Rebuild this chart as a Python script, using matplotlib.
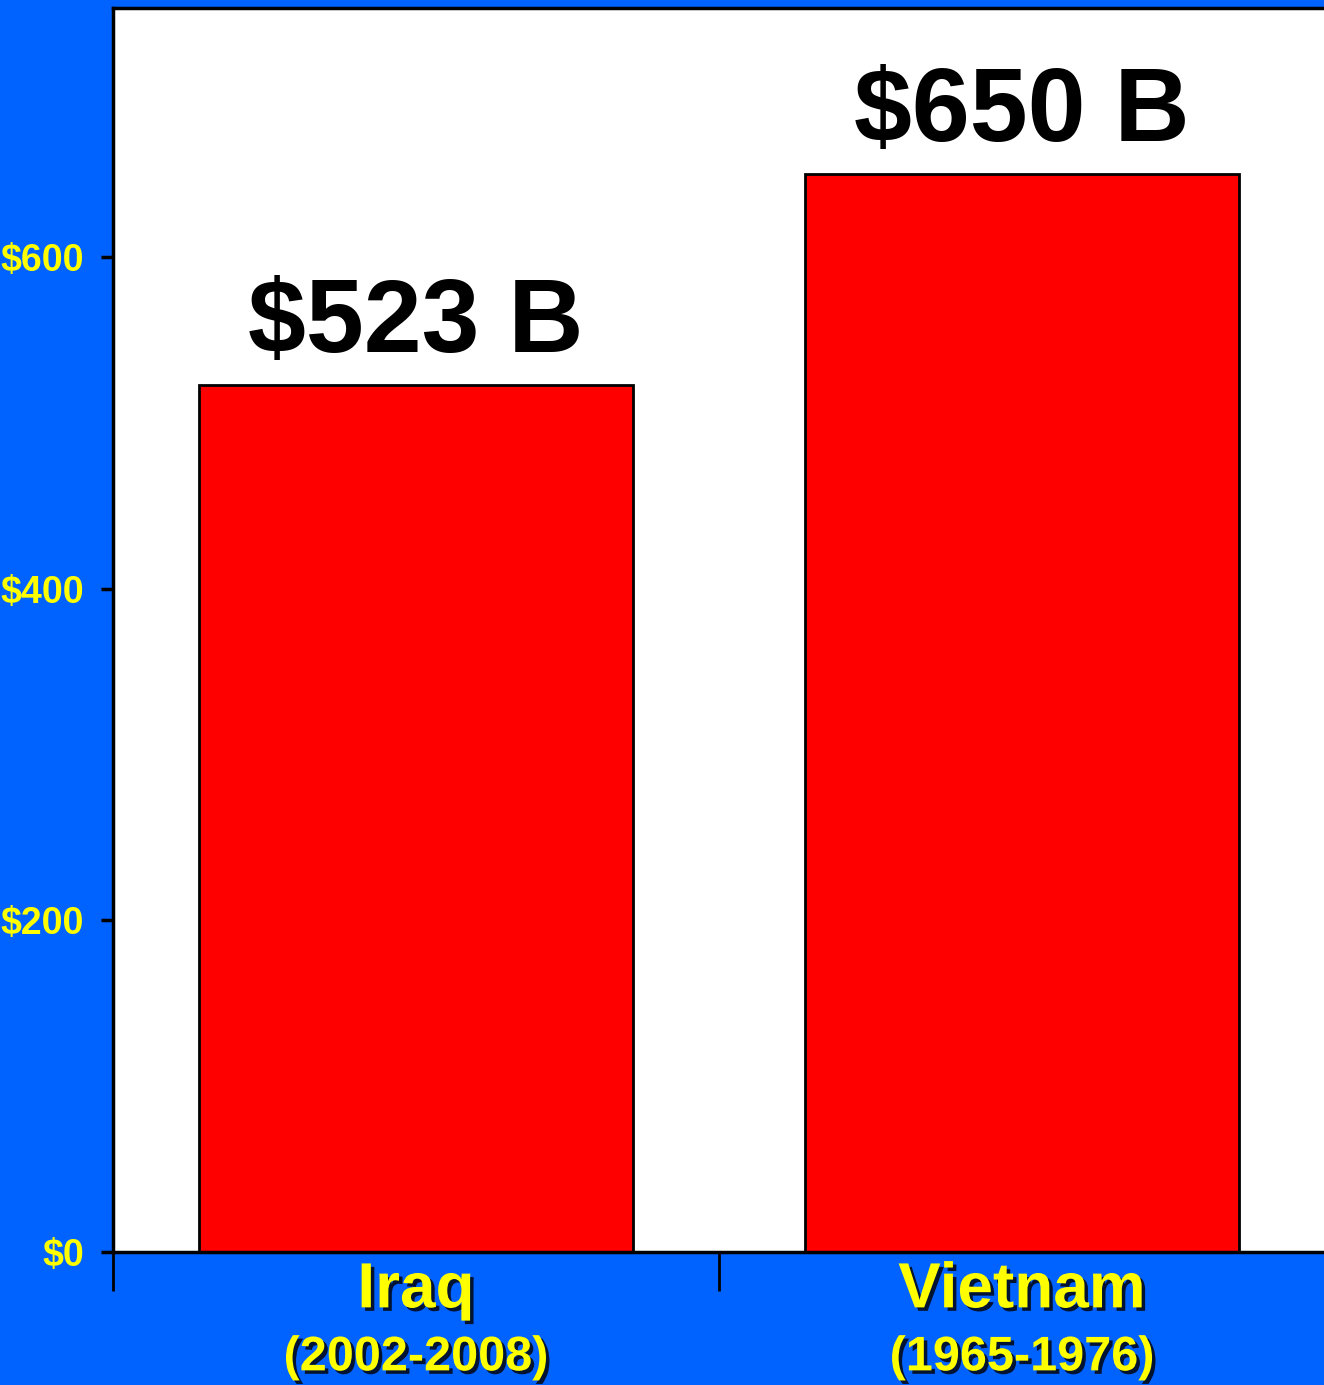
import matplotlib.pyplot as plt
import matplotlib.patheffects as pe
from matplotlib.ticker import FixedLocator, FuncFormatter

wars = ['Iraq', 'Vietnam']
periods = ['(2002-2008)', '(1965-1976)']
cost_billions = [523, 650]
value_labels = ['$523 B', '$650 B']
y_ticks = [0, 200, 400, 600]

blue = '#0062FF'
yellow = '#FFFF00'

fig = plt.figure(figsize=(13.24, 13.85), dpi=100, facecolor=blue)
ax = fig.add_axes([0.0853, 0.096, 0.9154, 0.8982])
ax.set_facecolor('white')

x = range(len(wars))
ax.bar(x, cost_billions, width=0.716, color='#FF0000', edgecolor='black',
       linewidth=2, zorder=2)

ax.set_xlim(-0.5, 1.5)
ax.set_ylim(0, 750)

for spine in ['left', 'top', 'bottom']:
    ax.spines[spine].set_linewidth(2.5)
    ax.spines[spine].set_color('black')
ax.spines['right'].set_visible(False)

shadow = [pe.SimplePatchShadow(offset=(2.5, -2.5), shadow_rgbFace='black', alpha=0.8),
          pe.Normal()]

# y axis
ax.yaxis.set_major_locator(FixedLocator(y_ticks))
ax.yaxis.set_major_formatter(FuncFormatter(lambda v, p: '$%d' % v))
ax.tick_params(axis='y', direction='out', length=9, width=2.5, pad=12,
               colors='black', labelcolor=yellow)
for lab in ax.get_yticklabels():
    lab.set_fontfamily(['Liberation Sans', 'DejaVu Sans'])
    lab.set_fontweight('bold')
    lab.set_fontsize(27)

# x axis: category names as major labels, boundaries as minor ticks
ax.set_xticks(list(x))
ax.set_xticklabels(wars)
ax.set_xticks([-0.5, 0.5, 1.5], minor=True)
ax.tick_params(axis='x', which='major', length=0, pad=6, labelcolor=yellow)
ax.tick_params(axis='x', which='minor', direction='out', length=28, width=2, colors='black')
for lab in ax.get_xticklabels():
    lab.set_fontfamily(['Liberation Sans', 'DejaVu Sans'])
    lab.set_fontweight('bold')
    lab.set_fontsize(46)
    lab.set_path_effects(shadow)

for i, p in enumerate(periods):
    ax.annotate(p, xy=(i, 0), xytext=(0, -60), textcoords='offset points',
                ha='center', va='top', fontsize=35, fontweight='bold',
                family=['Liberation Sans', 'DejaVu Sans'], color=yellow,
                path_effects=shadow, annotation_clip=False)

for i, (v, t) in enumerate(zip(cost_billions, value_labels)):
    ax.annotate(t, xy=(i, v), xytext=(0, 7.5), textcoords='offset points',
                ha='center', va='bottom', fontsize=75, fontweight='bold',
                family=['Liberation Sans', 'DejaVu Sans'], color='black')

fig.savefig('out.png', dpi=100, facecolor=blue)
